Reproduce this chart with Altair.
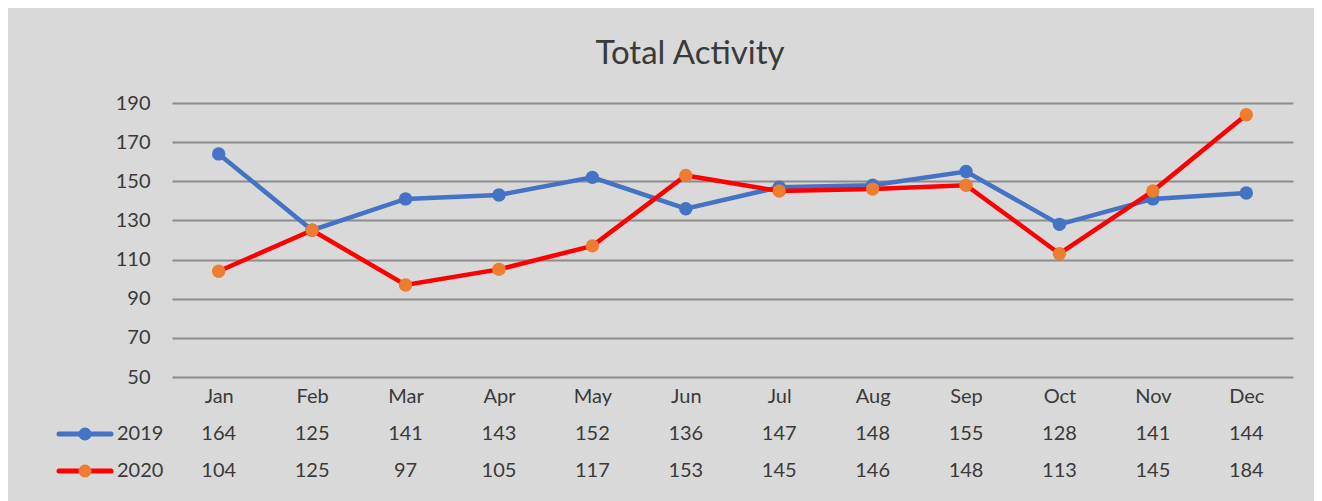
import altair as alt
import pandas as pd

months = ["Jan", "Feb", "Mar", "Apr", "May", "Jun", "Jul", "Aug", "Sep", "Oct", "Nov", "Dec"]
series_names = ["2019", "2020"]
values_2019 = [164, 125, 141, 143, 152, 136, 147, 148, 155, 128, 141, 144]
values_2020 = [104, 125, 97, 105, 117, 153, 145, 146, 148, 113, 145, 184]
y_ticks = [50, 70, 90, 110, 130, 150, 170, 190]
title_text = "Total Activity"

line_colors = {"2019": "#4472C4", "2020": "#FF0000"}
dot_colors = {"2019": "#4472C4", "2020": "#ED7D31"}
row_y = {"2019": 331, "2020": 368}

FONT = "Lato"
TXT = "#3A3A3A"

df = pd.DataFrame({
    "month": months * 2,
    "series": [series_names[0]] * 12 + [series_names[1]] * 12,
    "value": values_2019 + values_2020,
})

x_enc = alt.X("month:N", sort=months, title=None,
              scale=alt.Scale(padding=0.5),
              axis=alt.Axis(orient="bottom", labelAngle=0, labelFont=FONT, labelFontSize=20,
                            labelColor=TXT, labelPadding=9, ticks=False, domain=False, grid=False))
y_enc = alt.Y("value:Q", title=None,
              scale=alt.Scale(domain=[50, 190], nice=False, zero=False),
              axis=alt.Axis(values=y_ticks, labelFont=FONT, labelFontSize=20, labelColor=TXT,
                            labelPadding=22, ticks=False, domain=False, grid=True,
                            gridColor="#8C8C8C", gridWidth=1.8))

base = alt.Chart(df)
layers = []
for s in series_names:
    d = base.transform_filter(alt.datum.series == s)
    layers.append(d.mark_line(color=line_colors[s], strokeWidth=4.5).encode(x=x_enc, y=y_enc))
    layers.append(d.mark_circle(color=dot_colors[s], opacity=1, size=180).encode(x=x_enc, y=y_enc))
    # data table row
    layers.append(d.mark_text(font=FONT, fontSize=20, color=TXT, baseline="middle", align="center").encode(
        x=x_enc, y=alt.value(row_y[s]), text="value:Q"))

# legend keys of the data table
leg_df = pd.DataFrame({"series": series_names})
leg = alt.Chart(leg_df)
for s in series_names:
    d = leg.transform_filter(alt.datum.series == s)
    layers.append(d.mark_rule(color=line_colors[s], strokeWidth=5, strokeCap="round").encode(
        x=alt.value(-113), x2=alt.value(-61), y=alt.value(row_y[s])))
    layers.append(d.mark_circle(color=dot_colors[s], opacity=1, size=170).encode(
        x=alt.value(-87), y=alt.value(row_y[s])))
    layers.append(d.mark_text(font=FONT, fontSize=20, color=TXT, align="left", baseline="middle").encode(
        x=alt.value(-55), y=alt.value(row_y[s]), text="series:N"))

title_df = pd.DataFrame({"t": [title_text]})
layers.append(alt.Chart(title_df).mark_text(font=FONT, fontSize=33, color=TXT, align="center",
                                            baseline="middle").encode(
    x=alt.value(518), y=alt.value(-49), text="t:N"))

chart = alt.layer(*layers).properties(
    width=1121, height=274,
    autosize=alt.AutoSizeParams(type="none"),
    padding={"left": 164, "top": 95, "right": 21, "bottom": 124},
    background="#D9D9D9",
).configure_view(stroke=None).configure_axis(labelFont=FONT)

chart.save("out.html", embed_options={"renderer": "svg", "actions": False})
